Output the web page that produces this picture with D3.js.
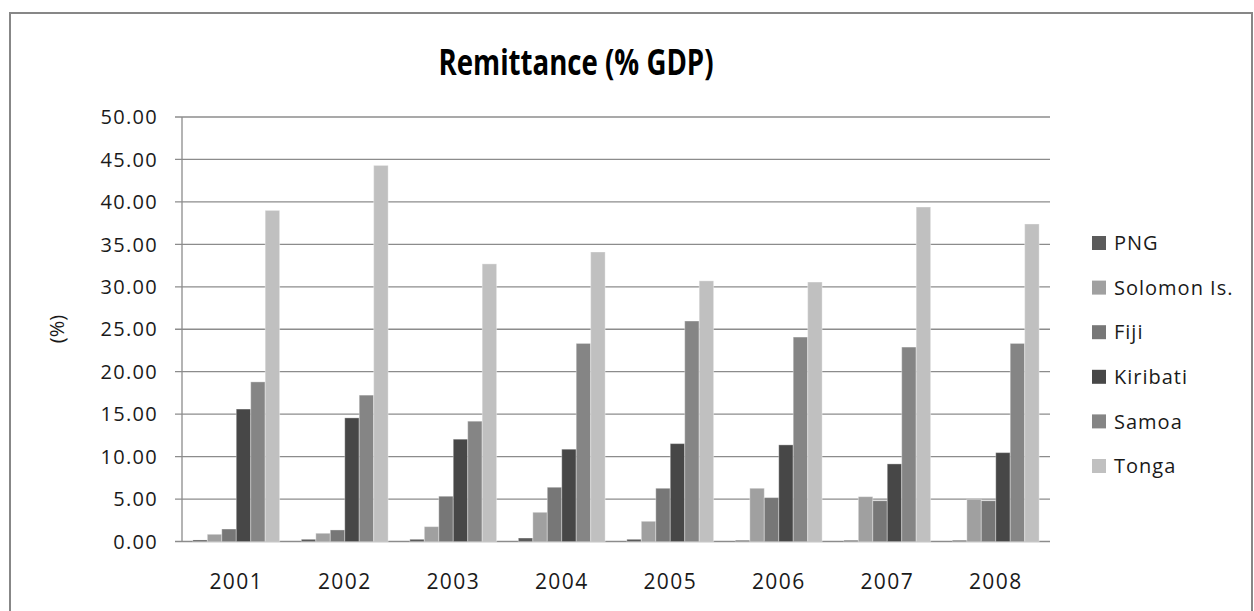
<!DOCTYPE html>
<html lang="en">
<head>
  <meta charset="utf-8">
  <title>Remittance (% GDP)</title>
  <script src="https://cdn.jsdelivr.net/npm/d3@7"></script>
  <style>
    body { margin: 0; background: #fff; }
    text { font-family: 'Open Sans', sans-serif; fill: #1a1a1a; }
  </style>
</head>
<body>
<script>
  // data
  var years = ["2001", "2002", "2003", "2004", "2005", "2006", "2007", "2008"];
  var seriesNames = ["PNG", "Solomon Is.", "Fiji", "Kiribati", "Samoa", "Tonga"];
  var png      = [0.18, 0.26, 0.26, 0.41, 0.26, 0.14, 0.14, 0.14];
  var solomon  = [0.85, 0.97, 1.75, 3.44, 2.38, 6.27, 5.28, 4.97];
  var fiji     = [1.47, 1.36, 5.33, 6.39, 6.27, 5.17, 4.81, 4.81];
  var kiribati = [15.60, 14.56, 12.05, 10.87, 11.53, 11.38, 9.14, 10.47];
  var samoa    = [18.80, 17.24, 14.17, 23.33, 25.97, 24.08, 22.90, 23.33];
  var tonga    = [39.00, 44.30, 32.70, 34.10, 30.70, 30.56, 39.40, 37.40];
  var yTicks = [0, 5, 10, 15, 20, 25, 30, 35, 40, 45, 50];

  var seriesValues = [png, solomon, fiji, kiribati, samoa, tonga];
  var colors = ["#5b5b5b", "#a0a0a0", "#777777", "#474747", "#858585", "#c0c0c0"];

  var W = 1254, H = 611;
  var svg = d3.select("body").append("svg")
      .attr("width", W)
      .attr("height", H);

  // chart frame
  svg.append("rect")
     .attr("x", 10).attr("y", 13)
     .attr("width", 1242).attr("height", 620)
     .attr("fill", "#fff")
     .attr("stroke", "#878787")
     .attr("stroke-width", 2);

  var plotLeft = 182, plotRight = 1050, plotTop = 117, plotBottom = 541.5;

  var x0 = d3.scaleBand()
      .domain(years)
      .range([plotLeft, plotRight])
      .paddingInner(0.2)
      .paddingOuter(0.1);

  var x1 = d3.scaleBand()
      .domain(seriesNames)
      .range([0, x0.bandwidth()]);

  var y = d3.scaleLinear()
      .domain([0, 50])
      .range([plotBottom, plotTop]);

  // gridlines
  svg.append("g")
     .selectAll("line")
     .data(yTicks)
     .enter()
     .append("line")
     .attr("x1", plotLeft - 7)
     .attr("x2", plotRight)
     .attr("y1", function(d){ return y(d); })
     .attr("y2", function(d){ return y(d); })
     .attr("stroke", "#8c8c8c")
     .attr("stroke-width", 1.3);

  // y axis line
  svg.append("line")
     .attr("x1", plotLeft).attr("x2", plotLeft)
     .attr("y1", plotTop).attr("y2", plotBottom)
     .attr("stroke", "#8c8c8c")
     .attr("stroke-width", 1.3);

  // y tick labels
  svg.append("g")
     .selectAll("text")
     .data(yTicks)
     .enter()
     .append("text")
     .attr("x", 158)
     .attr("y", function(d){ return y(d); })
     .attr("dy", "0.36em")
     .attr("text-anchor", "end")
     .style("font-size", "20px")
     .style("letter-spacing", "1.3px")
     .text(function(d){ return d3.format(".2f")(d); });

  // x labels
  svg.append("g")
     .selectAll("text")
     .data(years)
     .enter()
     .append("text")
     .attr("x", function(d){ return x0(d) + x0.bandwidth() / 2; })
     .attr("y", 589)
     .attr("text-anchor", "middle")
     .style("font-size", "21px")
     .style("letter-spacing", "1.4px")
     .text(function(d){ return d; });

  // bars
  var groups = svg.append("g")
     .selectAll("g")
     .data(years)
     .enter()
     .append("g")
     .attr("transform", function(d){ return "translate(" + x0(d) + ",0)"; });

  groups.selectAll("rect")
     .data(function(d, i){
       return seriesNames.map(function(s, j){
         return { name: s, value: seriesValues[j][i], color: colors[j] };
       });
     })
     .enter()
     .append("rect")
     .attr("x", function(d){ return x1(d.name); })
     .attr("y", function(d){ return y(d.value); })
     .attr("width", x1.bandwidth())
     .attr("height", function(d){ return plotBottom - y(d.value); })
     .attr("fill", function(d){ return d.color; })
     .attr("stroke", "#ffffff")
     .attr("stroke-opacity", 0.35)
     .attr("stroke-width", 1);

  // title
  svg.append("text")
     .attr("x", 576)
     .attr("y", 75)
     .attr("text-anchor", "middle")
     .attr("textLength", 275)
     .attr("lengthAdjust", "spacingAndGlyphs")
     .style("font-size", "35px")
     .style("font-weight", "bold")
     .style("fill", "#000")
     .text("Remittance (% GDP)");

  // y label
  svg.append("text")
     .attr("transform", "translate(64,329) rotate(-90)")
     .attr("text-anchor", "middle")
     .style("font-size", "20px")
     .text("(%)");

  // legend
  var legend = svg.append("g")
     .selectAll("g")
     .data(seriesNames)
     .enter()
     .append("g")
     .attr("transform", function(d, i){ return "translate(1092," + (243 + i * 44.6) + ")"; });

  legend.append("rect")
     .attr("x", 0).attr("y", -7)
     .attr("width", 14).attr("height", 14)
     .attr("fill", function(d, i){ return colors[i]; });

  legend.append("text")
     .attr("x", 22)
     .attr("y", 0)
     .attr("dy", "0.36em")
     .style("font-size", "20px")
     .style("letter-spacing", "1px")
     .text(function(d){ return d; });
</script>
</body>
</html>
